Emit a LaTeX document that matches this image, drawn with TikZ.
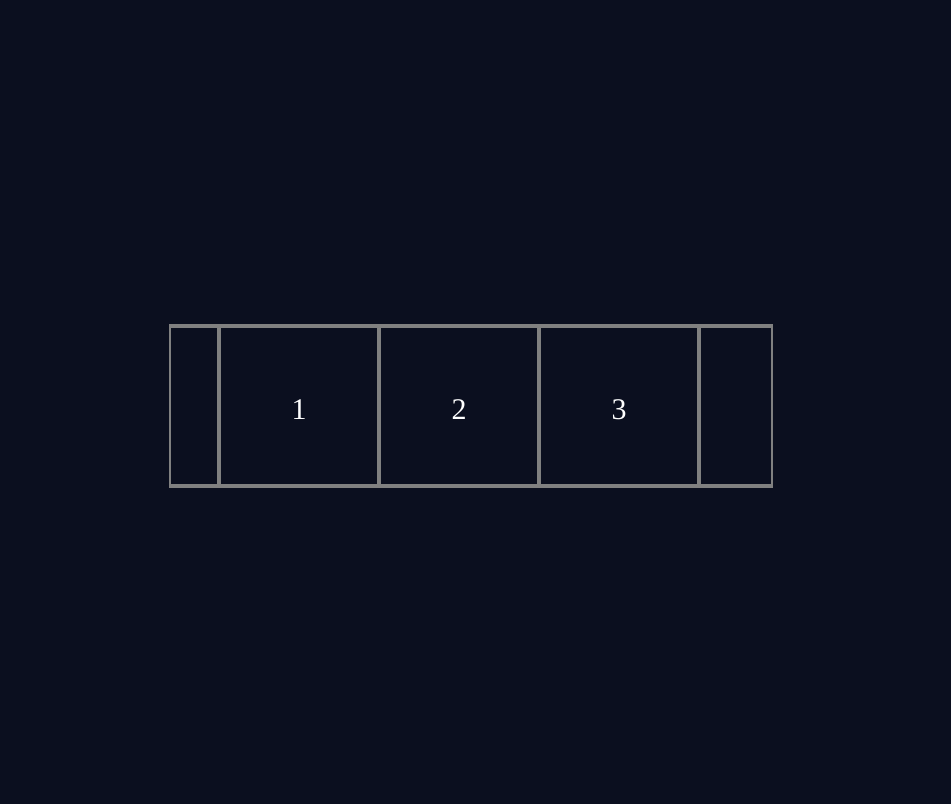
\documentclass[tikz,border=0pt]{standalone}
\usepackage{fontspec}
\setmainfont{Liberation Serif}
\definecolor{bgc}{HTML}{0B0F1F}
\definecolor{linec}{HTML}{808080}
\begin{document}
\begin{tikzpicture}[x=1pt,y=-1pt,
  cellbox/.style={draw=linec,line width=4pt,minimum width=160pt,minimum height=160pt,inner sep=0pt,outer sep=0pt,
    text=white,font=\fontsize{30}{34}\selectfont,text height=27pt,text depth=0pt,anchor=north west},
  frame/.style={draw=linec,line width=2pt},
  edge/.style={draw=linec,line width=4pt}]
\fill[bgc] (0,0) rectangle (951,804);
\useasboundingbox (0,0) rectangle (951,804);
\node[cellbox] (c1) at (219,326) {1};
\node[cellbox] (c2) at (379,326) {2};
\node[cellbox] (c3) at (539,326) {3};
\coordinate (tl) at (170,326);
\coordinate (br) at (772,486);
\coordinate (tlx) at (169,326);
\coordinate (trx) at (773,326);
\coordinate (blx) at (169,486);
\coordinate (brx) at (773,486);
\draw[frame] (tl) rectangle (br);
\draw[edge] (tlx) -- (trx);
\draw[edge] (blx) -- (brx);
\end{tikzpicture}
\end{document}
